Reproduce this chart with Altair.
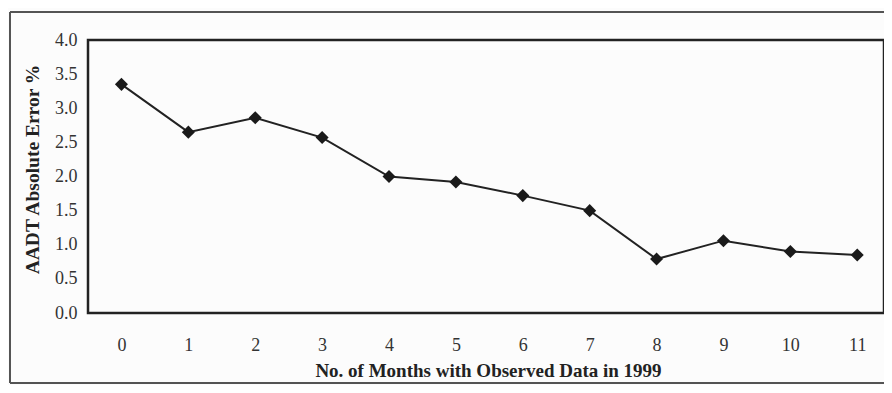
import altair as alt
import pandas as pd

months = [0, 1, 2, 3, 4, 5, 6, 7, 8, 9, 10, 11]
abs_error = [3.35, 2.65, 2.86, 2.57, 2.0, 1.92, 1.72, 1.5, 0.79, 1.06, 0.9, 0.85]
y_ticks = [0.0, 0.5, 1.0, 1.5, 2.0, 2.5, 3.0, 3.5, 4.0]
x_title = "No. of Months with Observed Data in 1999"
y_title = "AADT Absolute Error %"

df = pd.DataFrame({"month": months, "err": abs_error})

W, H = 796, 273
FONT = "Liberation Serif"
INK = "#222222"
LABEL = "#333333"

x = alt.X(
    "month:Q",
    scale=alt.Scale(domain=[-0.5, 11.4], nice=False, zero=False),
    axis=alt.Axis(
        values=months, format="d", ticks=False, domain=False, grid=False,
        labelFont=FONT, labelFontSize=18, labelColor=LABEL, labelPadding=23,
        labelFlush=False,
        title=x_title, titleFont=FONT, titleFontSize=19, titleFontWeight="bold",
        titleColor=INK, titleY=57, titleX=400, titleBaseline="middle",
    ),
)
y = alt.Y(
    "err:Q",
    scale=alt.Scale(domain=[0, 4], nice=False),
    axis=alt.Axis(
        values=y_ticks, format=".1f", ticks=False, domain=False, grid=False,
        labelFont=FONT, labelFontSize=18, labelColor=LABEL, labelPadding=11,
        title=y_title, titleFont=FONT, titleFontSize=19.5, titleFontWeight="bold",
        titleColor=INK, titleX=-56, titleY=129, titleAngle=270,
        titleBaseline="middle", titleAlign="center",
    ),
)

line = alt.Chart(df).mark_line(color=INK, strokeWidth=2).encode(x=x, y=y)
pts = alt.Chart(df).mark_point(
    shape="diamond", filled=True, size=170, color="#1a1a1a", opacity=1
).encode(x=x, y=y)

frame_color = "#555555"
top_rule = alt.Chart(df).mark_rule(color=frame_color, strokeWidth=1.3).encode(
    x=alt.value(-78), x2=alt.value(W + 2), y=alt.value(-28)
)
left_rule = alt.Chart(df).mark_rule(color=frame_color, strokeWidth=1.3).encode(
    x=alt.value(-78), y=alt.value(-28), y2=alt.value(343)
)
bottom_rule = alt.Chart(df).mark_rule(color=frame_color, strokeWidth=1.3).encode(
    x=alt.value(-78), x2=alt.value(W + 2), y=alt.value(343)
)

chart = (
    alt.layer(top_rule, left_rule, bottom_rule, line, pts)
    .properties(
        width=W, height=H,
        autosize=alt.AutoSizeParams(type="none"),
        padding={"left": 80, "top": 32, "right": 0, "bottom": 72},
        background="#fcfcfc",
    )
    .configure_view(stroke=INK, strokeWidth=2.5)
)

chart.save("out.html", embed_options={"renderer": "svg", "actions": False})
